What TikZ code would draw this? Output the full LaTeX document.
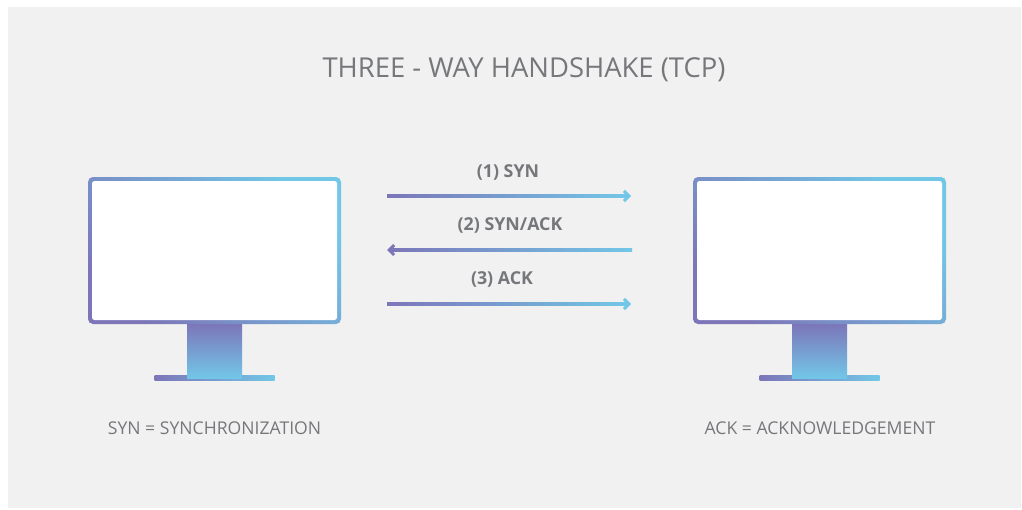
\documentclass[tikz,border=0pt]{standalone}
\usepackage{fontspec}
\setmainfont{Open Sans}
\usepackage{xcolor}
\usepackage{tikz}
\usetikzlibrary{arrows.meta,calc}
\definecolor{purp}{RGB}{124,118,185}
\definecolor{sky}{RGB}{114,199,231}
\definecolor{txt}{RGB}{118,119,123}
\definecolor{bg}{RGB}{241,241,241}
\tikzstyle{screen}=[rectangle,rounded corners=5pt,minimum width=253pt,minimum height=147pt,
  top color=sky,bottom color=purp,shading angle=-45,
  path picture={\fill[white,rounded corners=2.5pt]
    ([shift={(4pt,4pt)}]path picture bounding box.south west) rectangle
    ([shift={(-4pt,-4pt)}]path picture bounding box.north east);}]
\tikzstyle{neck}=[rectangle,minimum width=55pt,minimum height=54pt,top color=purp,bottom color=sky]
\tikzstyle{stand}=[rectangle,minimum width=120pt,minimum height=5pt,left color=purp,right color=sky]
\tikzstyle{msg}=[anchor=base,text=txt,font=\fontsize{17.8}{20}\selectfont\bfseries]
\tikzstyle{legend}=[anchor=base,text=txt,font=\fontsize{17.6}{20}\selectfont]
\tikzstyle{tip}=[line width=3pt,-{Straight Barb[length=5pt,width=10pt]}]

\begin{document}
\begin{tikzpicture}[x=1pt,y=-1pt,inner sep=0pt,outer sep=0pt]
        \useasboundingbox (0,0) rectangle (1022,509);
        \fill [bg] (8,7) rectangle (1021,508);

        \node at (524,77) [anchor=base,text=txt,font=\fontsize{27.4}{32}\selectfont] (title) {THREE - WAY HANDSHAKE (TCP)};

        % left computer
        \node at (214.5,377.5) [stand]  (lstand) {};
        \node at (214.5,351)   [neck]   (lneck)  {};
        \node at (214.5,250.5) [screen] (lscr)   {};
        % right computer
        \node at (819.5,377.5) [stand]  (rstand) {};
        \node at (819.5,351)   [neck]   (rneck)  {};
        \node at (819.5,250.5) [screen] (rscr)   {};

        \node at (214.5,434) [legend] (syn) {SYN = SYNCHRONIZATION};
        \node at (820,434)   [legend] (ack) {ACK = ACKNOWLEDGEMENT};

        \coordinate (m1a) at (387,196);
        \coordinate (m1b) at (631,196);
        \coordinate (m2a) at (387,250);
        \coordinate (m2b) at (632,250);
        \coordinate (m3a) at (387,304);
        \coordinate (m3b) at (631,304);

        \node at (508,177) [msg] (l1) {(1) SYN};
        \node at (510,230) [msg] (l2) {(2) SYN/ACK};
        \node at (502,284) [msg] (l3) {(3) ACK};

        \shade [left color=purp,right color=sky] ($(m1a)+(0,-1.5)$) rectangle ($(m1b)+(-3,1.5)$);
        \draw [tip,sky] ($(m1b)+(-4,0)$) -- (m1b);
        \shade [left color=purp,right color=sky] ($(m2a)+(3,-1.5)$) rectangle ($(m2b)+(0,1.5)$);
        \draw [tip,purp] ($(m2a)+(4,0)$) -- (m2a);
        \shade [left color=purp,right color=sky] ($(m3a)+(0,-1.5)$) rectangle ($(m3b)+(-3,1.5)$);
        \draw [tip,sky] ($(m3b)+(-4,0)$) -- (m3b);
      \end{tikzpicture}
\end{document}
